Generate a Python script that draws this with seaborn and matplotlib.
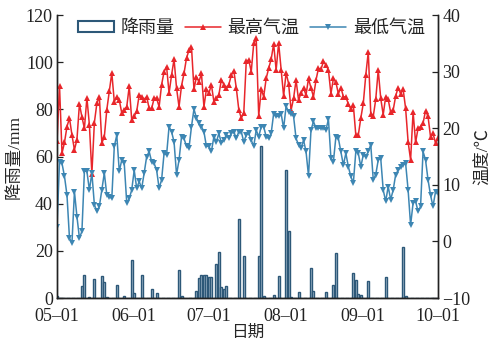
import pandas as pd
import numpy as np
import seaborn as sns
import matplotlib.pyplot as plt
from matplotlib.patches import Patch
from matplotlib.lines import Line2D

# daily series, 05-01 .. 10-01
start_date = '2019-05-01'

rain = [1.0, 0, 0, 0, 0, 0, 0, 0, 0, 0,
        5.1, 9.6, 0, 0.4, 0, 8.2, 0, 0, 9.4, 6.8,
        0.5, 0, 0, 0, 5.6, 0, 0, 0.8, 0, 0,
        16.2, 2.1, 0, 0, 9.6, 0, 0, 0, 3.7, 0,
        2.1, 0, 0, 0, 0, 0, 0, 0, 0, 11.8,
        0.8, 0, 0, 0, 0, 0, 2.9, 8.7, 9.9, 9.7,
        9.7, 9.0, 9.0, 0, 14.6, 19.5, 4.5, 4.0, 5.0, 0,
        0, 0, 0, 33.6, 0, 17.8, 0, 0, 0, 0,
        0, 17.7, 64.6, 0.9, 0, 0, 0, 1.2, 0, 9.2,
        0, 0, 54.3, 28.4, 0.5, 0, 0, 2.6, 0, 0,
        0, 0, 12.8, 3.0, 0, 0, 0, 0, 2.6, 0,
        0, 5.7, 19.1, 0, 0, 0, 0, 0, 0, 10.6,
        7.5, 1.9, 1.2, 0, 0, 7.3, 0, 0, 0, 0,
        0, 0, 9.0, 0, 0, 0, 0, 0, 0, 21.6,
        0.8, 0, 0, 0, 0, 0, 0, 0, 0, 0,
        0, 0, 0, 0]

tmax = [17.7, 27.5, 15.6, 17.5, 20.3, 21.8, 18.8, 16.2, 18.0, 24.3,
        22.0, 20.0, 25.4, 20.6, 12.0, 21.0, 24.4, 25.6, 17.4, 18.5,
        23.3, 26.5, 29.8, 24.7, 25.6, 25.0, 22.7, 23.3, 23.8, 27.4,
        21.5, 22.1, 23.0, 25.9, 25.6, 25.0, 25.6, 23.5, 23.5, 25.3,
        25.3, 23.8, 27.7, 30.0, 30.9, 26.2, 29.4, 32.2, 27.1, 23.8,
        27.5, 29.7, 32.4, 33.8, 34.4, 26.9, 29.1, 28.2, 29.7, 23.8,
        26.9, 26.2, 27.7, 24.7, 25.3, 25.9, 28.6, 27.7, 27.1, 27.7,
        29.4, 30.2, 27.1, 23.3, 21.8, 22.7, 31.8,
        32.1, 30.0, 35.0, 35.9, 22.2, 26.9, 25.6, 28.8, 30.6, 32.2,
        34.9, 30.3, 35.1, 30.3, 25.7, 29.8, 27.9, 23.2, 25.3, 28.5,
        25.0, 26.2, 27.1, 25.9, 28.8, 27.1, 25.6, 28.5, 30.6, 30.4,
        31.8, 31.2, 30.3, 26.1, 28.8, 28.1, 26.1, 27.2, 25.6, 25.5,
        24.3, 23.4, 24.1, 18.8, 18.8, 21.8, 24.4, 29.4, 33.5, 22.6,
        22.1, 25.1, 30.3, 25.3, 22.4, 25.6, 25.1, 22.8, 23.2, 25.7,
        27.2, 26.1, 26.9, 23.5, 17.6, 14.4, 22.9, 17.5, 20.0, 20.3,
        20.9, 23.1, 22.1, 18.5, 19.1, 17.4, 18.2]

tmin = [2.6, 14.1, 13.8, 11.5, 8.2, 0.6, -0.3, 8.8, 4.4, 0.6,
        1.8, 12.4, 12.4, 9.1, 12.1, 6.5, 5.3, 6.2, 9.1, 12.1,
        8.2, 7.9, 7.6, 16.8, 18.8, 12.4, 14.4, 13.8, 6.8, 7.6,
        9.1, 12.6, 9.4, 10.6, 9.4, 12.1, 15.0, 15.9, 14.1, 13.8,
        12.6, 9.4, 10.9, 15.6, 15.3, 20.3, 19.4, 17.6, 11.8, 14.4,
        18.5, 18.2, 16.8, 16.5, 20.3, 23.4, 21.8, 20.9, 20.3, 19.4,
        16.8, 16.8, 15.9, 18.5, 17.6, 19.1, 17.4, 17.9, 18.8, 18.2,
        19.1, 19.4, 18.2, 19.4, 19.4, 17.6,
        18.8, 19.1, 17.9, 16.8, 19.7, 18.5, 20.3, 20.3, 18.5, 18.2,
        19.1, 22.6, 22.1, 22.1, 22.6, 20.0, 23.9, 22.9, 22.6, 22.1,
        18.2, 17.1, 16.5, 17.9, 15.9, 11.6, 19.7, 21.2, 20.0, 20.0,
        20.0, 20.0, 19.7, 21.6, 14.7, 14.1, 18.5, 18.2, 15.9, 13.5,
        15.6,
        13.2, 11.5, 10.3, 15.9, 15.6, 13.2, 15.3, 15.0, 15.9, 17.1,
        10.9, 11.8, 14.4, 14.7, 9.1, 7.1, 9.7, 7.4, 9.1, 11.8,
        12.6, 13.2, 13.5, 13.8, 9.1, 2.9, 6.8, 7.1, 5.3, 6.2,
        15.9, 14.4, 10.9, 8.2, 6.2, 8.8, 8.5]

series_names = ['降雨量', '最高气温', '最低气温']

dates = pd.date_range(start_date, periods=len(tmax), freq='D')
days = np.asarray((dates - dates[0]).days)
month_pos = days[dates.day == 1]
month_lab = [d.strftime('%m–%d') for d in dates[dates.day == 1]]

sns.set_theme(style='ticks')
plt.rcParams['font.family'] = ['Liberation Serif', 'Noto Sans CJK SC']
plt.rcParams['axes.unicode_minus'] = True

bar_edge = '#2d5878'
bar_fill = '#a9bfd0'
red = '#e8262b'
blue = '#3d86b3'
fs = 13

fig = plt.figure(figsize=(4.98, 3.43), dpi=100)
ax = fig.add_axes([0.1145, 0.131, 0.765, 0.825])
ax2 = ax.twinx()

sns.barplot(x=days, y=rain, ax=ax, native_scale=True, width=0.8,
            color=bar_fill, edgecolor=bar_edge, linewidth=1.0,
            errorbar=None, saturation=1)

sns.lineplot(x=days, y=tmax, ax=ax2, color=red, marker='^', markersize=3.8,
             markeredgewidth=0, linewidth=1.1)
sns.lineplot(x=days, y=tmin, ax=ax2, color=blue, marker='v', markersize=3.8,
             markeredgewidth=0, linewidth=1.1)

ax.set_xlim(0, days[-1])
ax.set_ylim(0, 120)
ax.set_yticks(range(0, 121, 20))
ax2.set_ylim(-10, 40)
ax2.set_yticks(range(-10, 41, 10))
ax.set_xticks(month_pos)
ax.set_xticklabels(month_lab)

for a in (ax, ax2):
    a.spines['top'].set_visible(False)
    for s in a.spines.values():
        s.set_color('#222222')
        s.set_linewidth(1.0)
    a.tick_params(axis='y', direction='in', length=4, width=0.9,
                  labelsize=fs, colors='#222222', pad=3)
ax.tick_params(axis='x', length=0, labelsize=fs, colors='#222222', pad=7)

ax.set_xlabel('日期', fontsize=12, labelpad=0)
ax.set_ylabel('降雨量/mm', fontsize=12.5, labelpad=2)
ax2.set_ylabel('温度/℃', fontsize=12.5, labelpad=4)

ax2.set_zorder(ax.get_zorder() + 1)
ax2.patch.set_visible(False)

handles = [Patch(facecolor='white', edgecolor=bar_edge, linewidth=1.5),
           Line2D([], [], color=red, marker='^', markersize=3.8, markeredgewidth=0, linewidth=1.1),
           Line2D([], [], color=blue, marker='v', markersize=3.8, markeredgewidth=0, linewidth=1.1)]
ax2.legend(handles, series_names, loc='upper center', bbox_to_anchor=(0.51, 1.04),
           ncol=3, frameon=False, fontsize=fs, handlelength=2.0, handleheight=0.5,
           columnspacing=0.6, handletextpad=0.35)

fig.savefig('out.png', dpi=100)
